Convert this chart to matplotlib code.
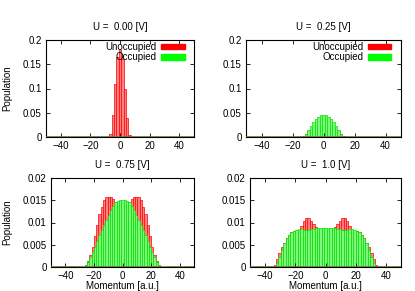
import numpy as np
import matplotlib
matplotlib.use("Agg")
import matplotlib.pyplot as plt
from matplotlib.patches import Patch

plt.rcParams['font.family'] = ['Liberation Sans', 'DejaVu Sans']
plt.rcParams['font.size'] = 7

# momentum grid (bin centres, a.u.)
DK = 1.6
momentum = np.arange(-21, 22) * DK

titles = ["U =  0.00 [V]", "U =  0.25 [V]", "U =  0.75 [V]", "U =  1.0 [V]"]

# populations, bins from -33.6 to 33.6
unocc_000 = [0]*17 + [0.006, 0.045, 0.11, 0.165, 0.18, 0.16, 0.10, 0.04, 0.005] + [0]*17
occ_000 = [0]*43

unocc_025 = [0]*13 + [0.002, 0.007, 0.012, 0.015, 0.016, 0.016, 0.015, 0.0145, 0.014,
                      0.0145, 0.015, 0.016, 0.016, 0.015, 0.012, 0.007, 0.002] + [0]*13
occ_025 = [0]*13 + [0.001, 0.006, 0.015, 0.022, 0.030, 0.037, 0.042, 0.045, 0.046,
                    0.045, 0.042, 0.037, 0.030, 0.022, 0.015, 0.006, 0.001] + [0]*13

unocc_075 = [0]*4 + [0.0001, 0.0004, 0.0013, 0.0027, 0.0045, 0.0070, 0.0095, 0.0118, 0.0135,
                     0.0150, 0.0157, 0.0158, 0.0157, 0.0152, 0.0146, 0.0141, 0.0138, 0.0137,
                     0.0138, 0.0141, 0.0146, 0.0152, 0.0157, 0.0158, 0.0157, 0.0150, 0.0135,
                     0.0118, 0.0095, 0.0070, 0.0045, 0.0027, 0.0013, 0.0004, 0.0001] + [0]*4
occ_075 = [0]*4 + [0.0001, 0.0005, 0.0012, 0.0022, 0.0034, 0.0046, 0.0059, 0.0072, 0.0084,
                   0.0095, 0.0106, 0.0117, 0.0127, 0.0137, 0.0145, 0.0149, 0.0150, 0.0150,
                   0.0150, 0.0149, 0.0145, 0.0137, 0.0127, 0.0117, 0.0106, 0.0095, 0.0084,
                   0.0072, 0.0059, 0.0046, 0.0034, 0.0022, 0.0012, 0.0005, 0.0001] + [0]*4

unocc_100 = [0.0005, 0.0018, 0.0032, 0.0045, 0.0055, 0.0066, 0.0073, 0.0078, 0.0081, 0.0082,
             0.0083, 0.0092, 0.0104, 0.0110, 0.0109, 0.0104, 0.0097, 0.0090, 0.0085, 0.0082,
             0.0080, 0.0080, 0.0080, 0.0082, 0.0085, 0.0090, 0.0097, 0.0104, 0.0109, 0.0110,
             0.0104, 0.0092, 0.0083, 0.0082, 0.0081, 0.0078, 0.0073, 0.0066, 0.0055, 0.0045,
             0.0032, 0.0018, 0.0005]
occ_100 = [0.0001, 0.0008, 0.0022, 0.0038, 0.0055, 0.0065, 0.0072, 0.0078, 0.0082, 0.0084,
           0.0085, 0.0085, 0.0084, 0.0084, 0.0084, 0.0085, 0.0086, 0.0087, 0.0088, 0.0088,
           0.0088, 0.0087, 0.0088, 0.0088, 0.0088, 0.0087, 0.0086, 0.0085, 0.0084, 0.0084,
           0.0084, 0.0085, 0.0085, 0.0084, 0.0082, 0.0078, 0.0072, 0.0065, 0.0055, 0.0038,
           0.0022, 0.0008, 0.0001]

yticks_top = [0, 0.05, 0.1, 0.15, 0.2]
ylabels_top = ["0", "0.05", "0.1", "0.15", "0.2"]
yticks_bot = [0, 0.005, 0.01, 0.015, 0.02]
ylabels_bot = ["0", "0.005", "0.01", "0.015", "0.02"]
xticks = [-40, -20, 0, 20, 40]

W, H = 415, 291
boxes = [(46, 40, 194, 137), (246, 40, 401, 137), (51, 178, 194, 267), (250, 178, 401, 267)]
data = [(unocc_000, occ_000), (unocc_025, occ_025), (unocc_075, occ_075), (unocc_100, occ_100)]

fig = plt.figure(figsize=(W/100, H/100), dpi=100)
for i, ((x0, y0, x1, y1), (red, green)) in enumerate(zip(boxes, data)):
    ax = fig.add_axes([x0/W, 1 - y1/H, (x1-x0)/W, (y1-y0)/H])
    ax.bar(momentum, red, width=DK, color="#ff8080", edgecolor="#ff0000", linewidth=0.5)
    ax.bar(momentum, green, width=DK, color="#80f580", edgecolor="#00e600", linewidth=0.5)
    ax.axhline(0, color="#707030", lw=1.2, zorder=3)
    ax.set_xlim(-50, 50)
    ax.set_xticks(xticks)
    if i < 2:
        ax.set_ylim(0, 0.2); ax.set_yticks(yticks_top); ax.set_yticklabels(ylabels_top)
    else:
        ax.set_ylim(0, 0.02); ax.set_yticks(yticks_bot); ax.set_yticklabels(ylabels_bot)
        ax.set_xlabel("Momentum [a.u.]", labelpad=0)
    if i % 2 == 0:
        ax.set_ylabel("Population")
        ax.yaxis.set_label_coords(-(x0 - 12)/(x1 - x0), 0.5)
    ax.set_title(titles[i], fontsize=7, pad=7)
    ax.tick_params(direction="in", top=True, right=True, length=3, width=0.6, pad=3, labelsize=7)
    for s in ax.spines.values():
        s.set_linewidth(0.8)
    if i < 2:
        hs = [Patch(facecolor="#ff0000", edgecolor="#ff0000"), Patch(facecolor="#00ff00", edgecolor="#00ff00")]
        ax.legend(hs, ["Unoccupied", "Occupied"], loc="upper right", bbox_to_anchor=(0.95, 1.0),
                  markerfirst=False, frameon=False, fontsize=7, handlelength=2.4, handleheight=0.55,
                  labelspacing=0.05, handletextpad=0.5, borderaxespad=0.0, borderpad=0.2)

fig.savefig("out.png", dpi=100)
